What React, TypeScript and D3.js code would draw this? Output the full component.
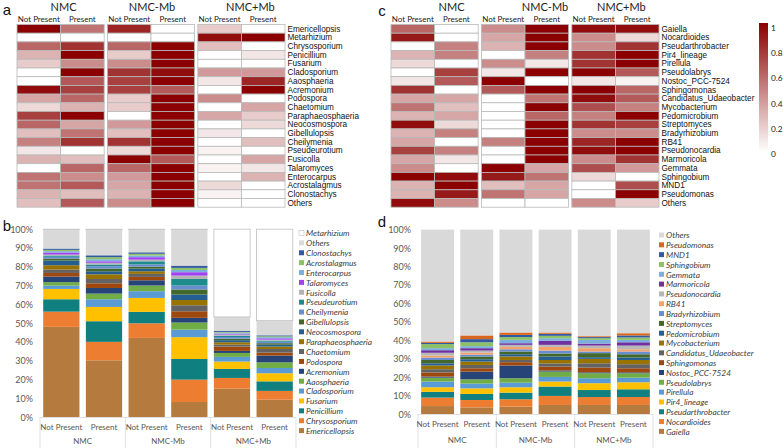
import React, { useEffect, useRef } from 'react'
import * as d3 from 'd3'

const W = 783
const H = 448

const groups = ['NMC', 'NMC-Mb', 'NMC+Mb']
const conditions = ['Not Present', 'Present']

// heatmap rows, columns: NMC NP, NMC P, NMC-Mb NP, NMC-Mb P, NMC+Mb NP, NMC+Mb P
const fungiRows = ['Emericellopsis', 'Metarhizium', 'Chrysosporium', 'Penicillium', 'Fusarium', 'Cladosporium',
  'Aaosphaeria', 'Acremonium', 'Podospora', 'Chaetomium', 'Paraphaeosphaeria', 'Neocosmospora', 'Gibellulopsis',
  'Cheilymenia', 'Pseudeurotium', 'Fusicolla', 'Talaromyces', 'Enterocarpus', 'Acrostalagmus', 'Clonostachys', 'Others']
const fungiHeat = [
  [1.0, 0.55, 0.85, 0, 0.2, 0],
  [0, 0, 0, 0, 0.95, 1.0],
  [0.6, 0.8, 0.6, 1.0, 0.25, 0],
  [0.3, 1.0, 0.2, 1.0, 0, 0.1],
  [0.2, 0.45, 0.45, 1.0, 0, 0],
  [0, 1.0, 0.8, 0.95, 0.4, 0.4],
  [0, 0.65, 0.75, 1.0, 0.1, 0.85],
  [0.95, 0.75, 0.75, 0.65, 0, 1.0],
  [0.35, 0.6, 0.2, 1.0, 0.45, 0],
  [0.15, 0.3, 0.2, 1.0, 0, 0.35],
  [0.75, 1.0, 0, 1.0, 0.35, 0.2],
  [0.6, 0.35, 0.4, 1.0, 0, 0.15],
  [0.25, 0.55, 0.25, 1.0, 0.1, 0],
  [0.5, 0.8, 0.8, 1.0, 0, 0.25],
  [0.1, 0, 0.15, 1.0, 0.05, 0],
  [0.3, 0.25, 1.0, 0.65, 0, 0.35],
  [0, 0.6, 0.6, 1.0, 0.05, 0.1],
  [0.55, 0.45, 0.4, 1.0, 0, 0.3],
  [0.55, 0.65, 0.35, 1.0, 0.15, 0],
  [0.3, 0.25, 0.3, 1.0, 0.05, 0],
  [0.25, 0.65, 0.45, 1.0, 0, 0],
]

const bacteriaRows = ['Gaiella', 'Nocardioides', 'Pseudarthrobacter', 'Pir4_lineage', 'Pirellula', 'Pseudolabrys',
  'Nostoc_PCC-7524', 'Sphingomonas', 'Candidatus_Udaeobacter', 'Mycobacterium', 'Pedomicrobium', 'Streptomyces',
  'Bradyrhizobium', 'RB41', 'Pseudonocardia', 'Marmoricola', 'Gemmata', 'Sphingobium', 'MND1', 'Pseudomonas', 'Others']
const bacteriaHeat = [
  [0.6, 0, 0.45, 1.0, 0.95, 0.95],
  [0.9, 0, 0.35, 1.0, 0.45, 0.15],
  [0, 0.5, 0.3, 1.0, 0.45, 0.8],
  [0.3, 0.5, 0, 0.5, 0.8, 1.0],
  [0.15, 0, 0.45, 0.1, 0.8, 1.0],
  [0, 0.75, 0.1, 1.0, 1.0, 0.65],
  [0.1, 0.65, 1.0, 0, 0.1, 0.05],
  [0.8, 0, 0.65, 1.0, 1.0, 0.6],
  [0.35, 0.35, 0, 0.55, 0.95, 0.65],
  [0.55, 0.25, 0, 1.0, 0.7, 0.5],
  [0.3, 0.35, 0, 0.6, 0.5, 1.0],
  [0.95, 0.15, 0, 1.0, 0.8, 0.75],
  [0.3, 0.5, 0, 1.0, 0.45, 0.45],
  [0.35, 0, 0.5, 1.0, 0.85, 1.0],
  [0.75, 0.5, 0, 1.0, 0.95, 1.0],
  [0.35, 0.1, 0, 1.0, 0.45, 0.8],
  [0.45, 0, 1.0, 0.35, 0.7, 0.4],
  [1.0, 0.95, 0.9, 0.55, 0.15, 0],
  [0.3, 1.0, 0.25, 0.35, 0, 0.7],
  [0.3, 0.9, 0.55, 0.35, 0, 1.0],
  [0.95, 0.45, 0, 0, 0.45, 0.2],
]
const heatTicks = [0, 0.2, 0.4, 0.6, 0.8, 1]

// stacked bars, bottom of stack first; six bars = groups x conditions
const fungiTaxa = ['Emericellopsis', 'Chrysosporium', 'Penicillium', 'Fusarium', 'Cladosporium', 'Aaosphaeria',
  'Acremonium', 'Podospora', 'Chaetomium', 'Paraphaeosphaeria', 'Neocosmospora', 'Gibellulopsis', 'Cheilymenia',
  'Pseudeurotium', 'Fusicolla', 'Talaromyces', 'Enterocarpus', 'Acrostalagmus', 'Clonostachys', 'Others', 'Metarhizium']
const fungiShares = [
  [48.0, 30.2, 42.1, 8.0, 15.1, 9.2],
  [8.1, 9.8, 7.8, 11.9, 5.7, 4.7],
  [6.6, 11.0, 6.1, 11.0, 4.8, 5.1],
  [5.5, 7.6, 7.4, 11.6, 3.9, 4.3],
  [1.8, 4.1, 3.6, 4.0, 2.5, 2.8],
  [1.8, 3.0, 3.0, 3.8, 2.1, 3.0],
  [3.0, 3.0, 2.8, 2.5, 1.1, 3.6],
  [1.9, 2.5, 1.8, 3.5, 2.3, 1.6],
  [1.8, 2.3, 1.6, 3.2, 1.0, 1.9],
  [2.3, 2.5, 1.4, 2.8, 1.3, 1.3],
  [2.5, 1.6, 1.4, 2.9, 1.1, 1.0],
  [1.1, 1.4, 1.1, 2.7, 0.8, 0.8],
  [0.9, 1.3, 1.2, 2.1, 0.9, 0.8],
  [0.7, 0.9, 1.6, 3.5, 0.7, 0.6],
  [0.5, 0.9, 0.9, 1.8, 0.6, 0.5],
  [1.1, 0.8, 1.3, 1.8, 0.5, 0.7],
  [0.7, 1.1, 0.9, 1.2, 0.5, 0.6],
  [0.7, 1.1, 0.9, 1.1, 0.4, 0.5],
  [0.7, 1.0, 0.8, 1.2, 0.5, 0.5],
  [10.1, 13.7, 12.1, 19.2, 7.5, 7.8],
  [0.2, 0.2, 0.2, 0.2, 46.7, 48.7],
]
const fungiColors = ['#b57a3e', '#ed7d31', '#0f7f7f', '#ffc000', '#5b9bd5', '#70ad47', '#264478', '#9e480e',
  '#636363', '#997300', '#255e91', '#43682b', '#698ed0', '#1e8c8c', '#b4b4b4', '#a040f0', '#7cafdd', '#8cc168',
  '#335aa1', '#d9d9d9', '#ffffff']

const bacteriaTaxa = ['Gaiella', 'Nocardioides', 'Pseudarthrobacter', 'Pir4_lineage', 'Pirellula', 'Pseudolabrys',
  'Nostoc_PCC-7524', 'Sphingomonas', 'Candidatus_Udaeobacter', 'Mycobacterium', 'Pedomicrobium', 'Streptomyces',
  'Bradyrhizobium', 'RB41', 'Pseudonocardia', 'Marmoricola', 'Gemmata', 'Sphingobium', 'MND1', 'Pseudomonas', 'Others']
const bacteriaShares = [
  [4.3, 3.6, 4.0, 4.9, 4.9, 4.9],
  [4.6, 4.0, 4.0, 4.9, 4.3, 4.3],
  [3.1, 3.3, 3.6, 5.1, 3.8, 4.2],
  [2.5, 3.0, 2.9, 2.7, 3.7, 3.8],
  [3.1, 2.6, 2.5, 2.5, 2.7, 2.5],
  [2.1, 2.3, 2.4, 2.9, 2.7, 2.4],
  [0.6, 4.2, 6.9, 0.6, 0.5, 0.5],
  [2.2, 1.8, 1.8, 2.1, 2.6, 2.2],
  [1.8, 1.8, 1.2, 1.7, 2.3, 2.2],
  [2.0, 1.8, 1.9, 1.9, 2.4, 2.3],
  [1.2, 1.3, 1.2, 1.9, 0.9, 1.3],
  [1.8, 1.5, 1.5, 1.6, 2.2, 1.8],
  [1.3, 1.0, 1.2, 1.6, 0.9, 1.5],
  [1.1, 1.1, 1.3, 2.0, 1.8, 1.2],
  [1.5, 1.1, 1.1, 1.1, 1.4, 2.0],
  [1.4, 1.3, 0.9, 2.2, 1.1, 1.8],
  [1.1, 1.1, 1.8, 1.4, 2.0, 1.3],
  [2.2, 2.1, 1.5, 1.3, 0.9, 1.3],
  [0.7, 1.7, 1.2, 1.1, 0.6, 1.1],
  [0.7, 2.0, 1.3, 0.7, 0.5, 1.2],
  [60.7, 57.4, 55.8, 55.8, 57.8, 56.2],
]
const bacteriaColors = ['#b57a3e', '#ed7d31', '#0f7f7f', '#ffc000', '#5b9bd5', '#70ad47', '#264478', '#9e480e',
  '#636363', '#997300', '#255e91', '#43682b', '#698ed0', '#f4a26b', '#b7b7b7', '#7030a0', '#7cafdd', '#8cc168',
  '#335aa1', '#d9661f', '#d9d9d9']

const percentTicks = [0, 10, 20, 30, 40, 50, 60, 70, 80, 90, 100]

const ARIAL = "'Liberation Sans', Arial, sans-serif"
const XL = "Lato, 'Open Sans', sans-serif"
const heatColor = d3.interpolateRgb('#ffffff', '#8b0000')

type Sel = d3.Selection<SVGSVGElement, unknown, null, undefined>

function drawHeatmap(svg: Sel, rows: string[], values: number[][], x0: number, x1: number, headerShift: number[]) {
  const g = svg.append('g')
  const gx = d3.scaleBand().domain(groups).range([x0, x1]).paddingInner(0.036)
  const cx = d3.scaleBand().domain(conditions).range([0, gx.bandwidth()])
  const y = d3.scaleBand().domain(rows).range([24.5, 207.2])

  groups.forEach((grp, gi) => {
    const bx = gx(grp)!
    g.append('text').attr('x', bx + gx.bandwidth() / 2 + headerShift[gi]).attr('y', 6)
      .attr('text-anchor', 'middle').attr('dominant-baseline', 'central')
      .style('font', `11px ${XL}`).attr('fill', '#222').text(grp)
    conditions.forEach((c, ci) => {
      g.append('text').attr('x', bx + cx(c)! + cx.bandwidth() / 2).attr('y', 19)
        .attr('text-anchor', 'middle').attr('dominant-baseline', 'central')
        .style('font', `8px ${XL}`).attr('fill', '#222').text(c)
      g.selectAll(null).data(rows).enter().append('rect')
        .attr('x', bx + cx(c)!).attr('y', (r) => y(r)!)
        .attr('width', cx.bandwidth()).attr('height', y.bandwidth())
        .attr('fill', (r, i) => heatColor(values[i][gi * 2 + ci]))
        .attr('stroke', '#b9b9b9').attr('stroke-width', 0.8)
    })
  })

  g.selectAll(null).data(rows).enter().append('text')
    .attr('x', x1 + 2.5).attr('y', (r) => y(r)! + y.bandwidth() / 2 + 0.3)
    .attr('dominant-baseline', 'central')
    .style('font', `8.2px ${ARIAL}`).attr('fill', '#111').text((r) => r)
}

function drawStack(svg: Sel, opts: {
  taxa: string[], shares: number[][], colors: string[], x0: number, x1: number, y0: number, y1: number,
  tickX: number, condY: number, groupY: number, legX: number, legY: number, legStep: number, pad: number,
}) {
  const { taxa, shares, colors } = opts
  const g = svg.append('g')
  const bars = groups.flatMap((grp) => conditions.map((c) => `${grp}|${c}`))
  const rowsData = bars.map((b, bi) => {
    const o: any = { bar: b }
    taxa.forEach((t, ti) => { o[t] = shares[ti][bi] })
    return o
  })
  const x = d3.scaleBand().domain(bars).range([opts.x0, opts.x1]).paddingInner(opts.pad).paddingOuter(opts.pad / 2)
  const y = d3.scaleLinear().domain([0, 100]).range([opts.y0, opts.y1])
  const color = d3.scaleOrdinal<string, string>().domain(taxa).range(colors)
  const series = d3.stack().keys(taxa)(rowsData)

  g.selectAll(null).data(series).enter().append('g')
    .attr('fill', (s) => color(s.key))
    .attr('stroke', (s) => (color(s.key) === '#ffffff' ? '#bfbfbf' : 'none'))
    .attr('stroke-width', 0.8)
    .selectAll('rect').data((s) => s).enter().append('rect')
    .attr('x', (d: any) => x(d.data.bar)!)
    .attr('y', (d) => y(d[1]))
    .attr('width', x.bandwidth())
    .attr('height', (d) => Math.max(0, y(d[0]) - y(d[1])))

  // y ticks
  g.selectAll(null).data(percentTicks).enter().append('text')
    .attr('x', opts.tickX).attr('y', (d) => y(d))
    .attr('text-anchor', 'end').attr('dominant-baseline', 'central')
    .style('font', `9px ${XL}`).attr('fill', '#595959').text((d) => `${d}%`)

  // category axis
  const step = x.step()
  g.append('line').attr('x1', opts.x0).attr('x2', opts.x1).attr('y1', opts.y0 + 0.5).attr('y2', opts.y0 + 0.5)
    .attr('stroke', '#d9d9d9').attr('stroke-width', 0.8)
  d3.range(groups.length + 1).forEach((k) => {
    const lx = opts.x0 + k * 2 * step
    g.append('line').attr('x1', lx).attr('x2', lx).attr('y1', opts.y0).attr('y2', H)
      .attr('stroke', '#d9d9d9').attr('stroke-width', 0.8)
  })
  g.selectAll(null).data(bars).enter().append('text')
    .attr('x', (b) => x(b)! + x.bandwidth() / 2).attr('y', opts.condY)
    .attr('text-anchor', 'middle').attr('dominant-baseline', 'central')
    .style('font', `8px ${XL}`).attr('fill', '#595959').text((b) => b.split('|')[1])
  groups.forEach((grp, gi) => {
    g.append('text').attr('x', opts.x0 + (gi * 2 + 1) * step).attr('y', opts.groupY)
      .attr('text-anchor', 'middle').attr('dominant-baseline', 'central')
      .style('font', `8px ${XL}`).attr('fill', '#595959').text(grp)
  })

  // legend, top of stack first
  const legend = taxa.slice().reverse()
  const lg = g.selectAll(null).data(legend).enter().append('g')
    .attr('transform', (t, i) => `translate(${opts.legX},${opts.legY + i * opts.legStep})`)
  lg.append('rect').attr('x', 0).attr('y', -2.5).attr('width', 5).attr('height', 5)
    .attr('fill', (t) => color(t))
    .attr('stroke', (t) => (color(t) === '#ffffff' ? '#bfbfbf' : 'none')).attr('stroke-width', 0.6)
  lg.append('text').attr('x', 7).attr('y', 0.3).attr('dominant-baseline', 'central')
    .style('font', `italic 8.3px ${XL}`).attr('fill', '#404040').text((t) => t)
}

function drawColorKey(svg: Sel) {
  const defs = svg.append('defs')
  const grad = defs.append('linearGradient').attr('id', 'heatGrad')
    .attr('x1', 0).attr('y1', 1).attr('x2', 0).attr('y2', 0)
  d3.range(0, 1.01, 0.1).forEach((t) => {
    grad.append('stop').attr('offset', `${t * 100}%`).attr('stop-color', heatColor(t))
  })
  svg.append('rect').attr('x', 759).attr('y', 23).attr('width', 9).attr('height', 129).attr('fill', 'url(#heatGrad)')
  const k = d3.scaleLinear().domain([0, 1]).range([154, 28])
  svg.append('g').selectAll(null).data(heatTicks).enter().append('text')
    .attr('x', 771).attr('y', (d) => k(d)).attr('dominant-baseline', 'central')
    .style('font', `8.3px ${XL}`).attr('fill', '#222').text((d) => String(d))
}

export default function App() {
  const ref = useRef<SVGSVGElement>(null)

  useEffect(() => {
    const svg = d3.select(ref.current!) as Sel
    svg.selectAll('*').remove()
    svg.append('rect').attr('width', W).attr('height', H).attr('fill', '#fff')

    drawHeatmap(svg, fungiRows, fungiHeat, 17, 285, [3, 1, 9])
    drawHeatmap(svg, bacteriaRows, bacteriaHeat, 391, 659, [17, 20, 6])
    drawColorKey(svg)

    drawStack(svg, {
      taxa: fungiTaxa, shares: fungiShares, colors: fungiColors, x0: 40, x1: 296, y0: 417, y1: 229.2,
      tickX: 33, condY: 427, groupY: 441, legX: 299, legY: 233, legStep: 9.88, pad: 0.15,
    })
    drawStack(svg, {
      taxa: bacteriaTaxa, shares: bacteriaShares, colors: bacteriaColors, x0: 418, x1: 653, y0: 414, y1: 229.6,
      tickX: 411, condY: 424, groupY: 440, legX: 659, legY: 235, legStep: 9.82, pad: 0.16,
    })

    const letters: [string, number, number][] = [['a', 7, 9], ['c', 382, 10], ['b', 7, 225], ['d', 382, 221]]
    svg.append('g').selectAll(null).data(letters).enter().append('text')
      .attr('x', (d) => d[1]).attr('y', (d) => d[2])
      .attr('text-anchor', 'middle').attr('dominant-baseline', 'central')
      .style('font', `15px ${ARIAL}`).attr('fill', '#111').text((d) => d[0])
  }, [])

  return (
    <svg ref={ref} width={W} height={H} style={{ position: 'absolute', left: 0, top: 0 }} />
  )
}
